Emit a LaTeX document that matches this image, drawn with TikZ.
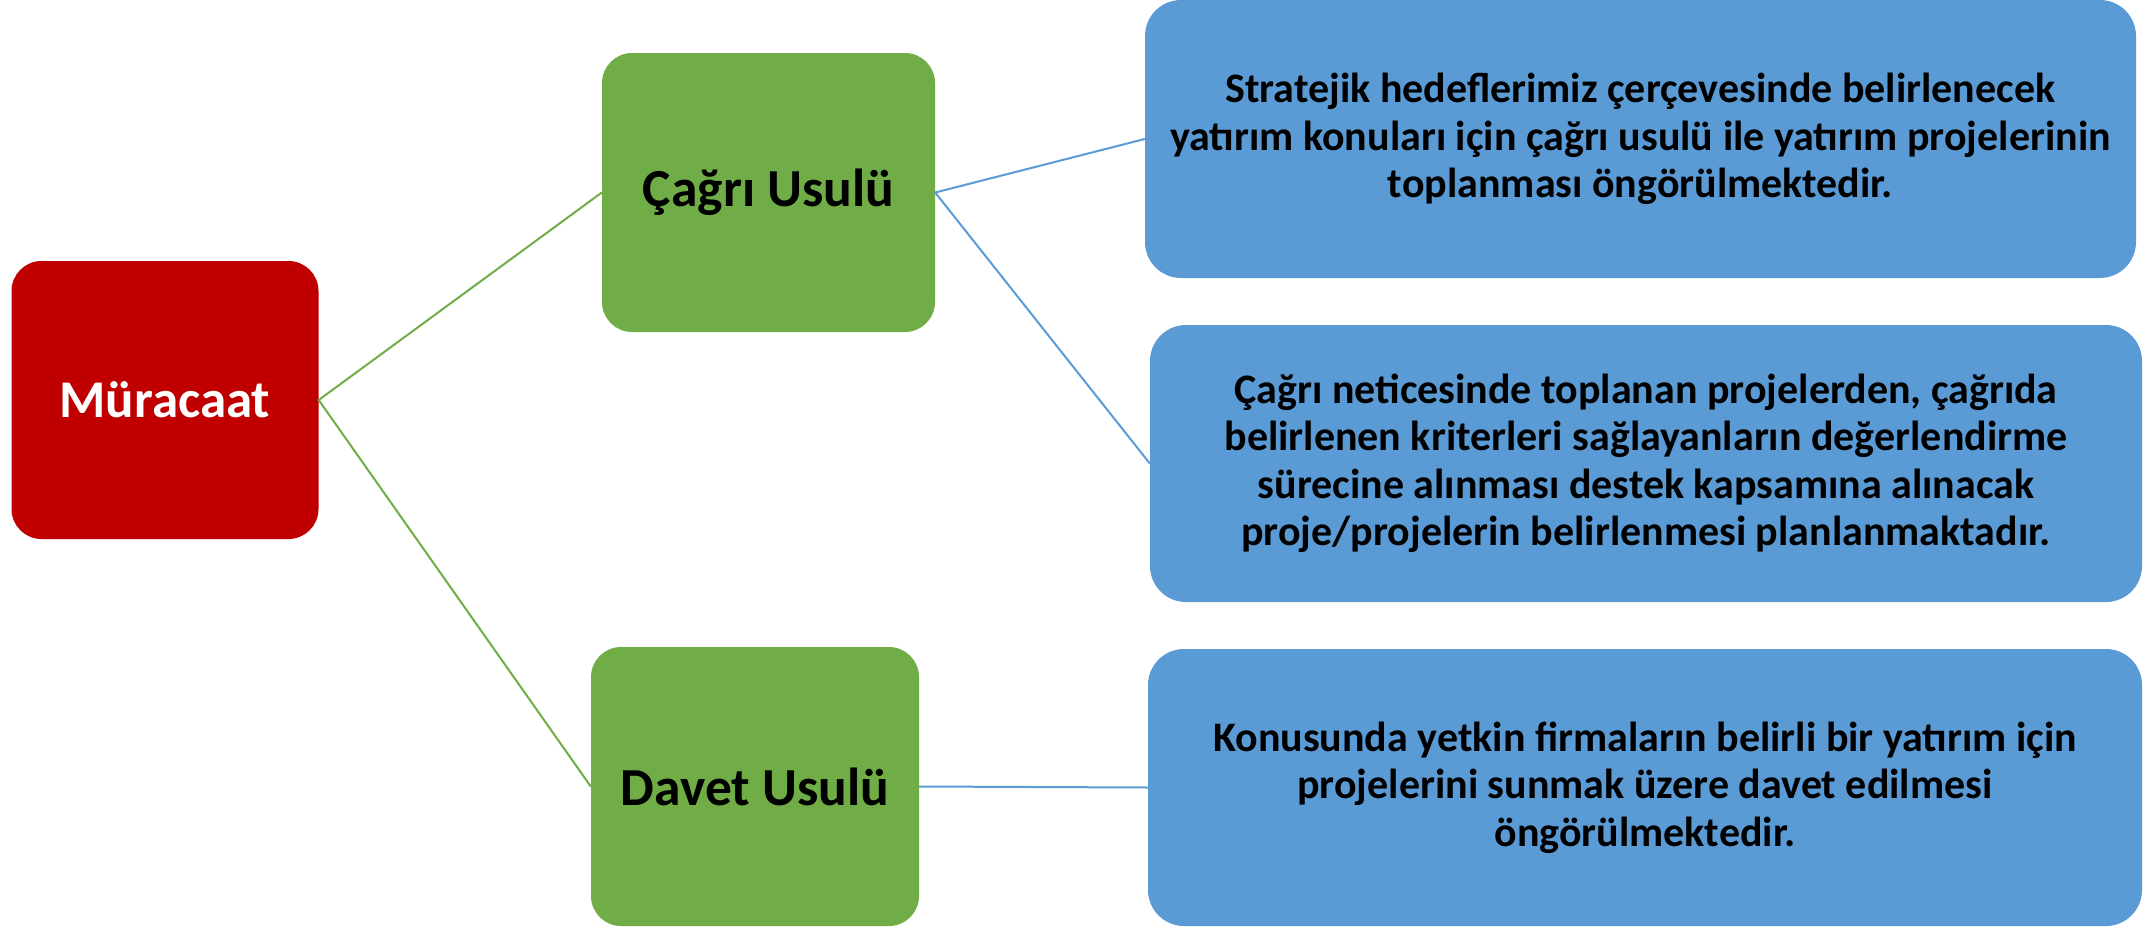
\documentclass[tikz,border=0pt]{standalone}
\usepackage{fontspec}
\setmainfont{Carlito}
\definecolor{cred}{HTML}{C00000}
\definecolor{cgreen}{HTML}{70AD47}
\definecolor{cblue}{HTML}{5B9BD5}
\begin{document}
\begin{tikzpicture}[x=1pt,y=-1pt,
  basebox/.style={rounded corners=30pt, inner sep=0pt, align=center, font=\bfseries},
  redbox/.style={basebox, fill=cred, text=white, font=\fontsize{53}{60}\selectfont\bfseries},
  greenbox/.style={basebox, fill=cgreen, text=black, font=\fontsize{53.5}{60}\selectfont\bfseries},
  bluebox/.style={basebox, rounded corners=36pt, fill=cblue, text=black, font=\fontsize{42}{47.5}\selectfont\bfseries},
  gline/.style={draw=cgreen, line width=2pt},
  bline/.style={draw=cblue, line width=2pt}]
\useasboundingbox (0,0) rectangle (2150,927);
\node[redbox, minimum width=307, minimum height=278] (m) at (165,400) {Müracaat};
\node[greenbox, minimum width=333, minimum height=279] (c) at (768.5,192.5) {Çağrı Usulü};
\node[greenbox, minimum width=328, minimum height=279] (d) at (755,786.5) {Davet Usulü};
\node[bluebox, minimum width=991, minimum height=278] (b1) at (1640.5,139) {Stratejik hedeflerimiz çerçevesinde belirlenecek\\yatırım konuları için çağrı usulü ile yatırım projelerinin\\toplanması öngörülmektedir.};
\node[bluebox, minimum width=992, minimum height=277] (b2) at (1646,463.5) {Çağrı neticesinde toplanan projelerden, çağrıda\\belirlenen kriterleri sağlayanların değerlendirme\\sürecine alınması destek kapsamına alınacak\\proje/projelerin belirlenmesi planlanmaktadır.};
\node[bluebox, minimum width=994, minimum height=277] (b3) at (1645,787.5) {Konusunda yetkin firmaların belirli bir yatırım için\\projelerini sunmak üzere davet edilmesi\\öngörülmektedir.};
\draw[gline] (c.west) -- (m.east) -- (d.west);
\draw[bline] (b1.west) -- (c.east) -- (b2.west);
\draw[bline] (d.east) -- (b3.west);
\end{tikzpicture}
\end{document}
